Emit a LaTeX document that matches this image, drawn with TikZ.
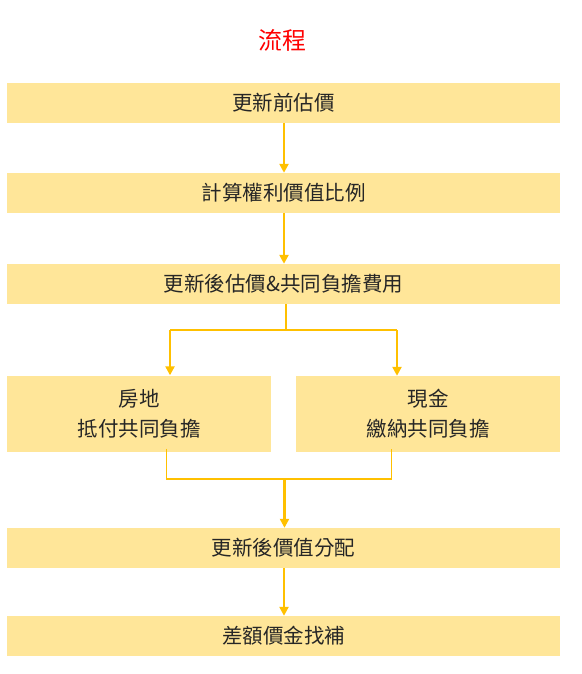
\documentclass[tikz,border=0pt]{standalone}
\usepackage{fontspec}
\setmainfont{Noto Sans CJK TC}
\usepackage{xcolor}
\usetikzlibrary{arrows.meta, positioning}
\definecolor{boxfill}{HTML}{FFE699}
\definecolor{arrowgold}{HTML}{FFC000}
\definecolor{titlered}{HTML}{FF0000}
\definecolor{textgray}{HTML}{262626}
\tikzset{
  % boxes of the flow
  step box/.style={rectangle, fill=boxfill, text=textgray, inner sep=0pt,
    font=\fontsize{20.5}{30}\selectfont, align=center},
  wide box/.style={step box, minimum width=553, minimum height=40},
  half box/.style={step box, minimum width=264, minimum height=76},
  % connectors
  connect/.style={arrowgold, line width=1.6},
  connect arrow/.style={arrowgold, line width=2.6, -{Triangle[length=9,width=9]}},
}

\begin{document}
\begin{tikzpicture}[x=1pt, y=-1pt]
    \useasboundingbox (0,0) rectangle (581,674);
    \node[text=titlered, font=\fontsize{24}{28}\selectfont] (Title) at (282,40) {流程};
    \node[wide box] (Before)  at (283.5,103) {更新前估價};
    \node[wide box] (Ratio)   at (283.5,193) {計算權利價值比例};
    \node[wide box] (After)   at (283.5,284) {更新後估價\&共同負擔費用};
    \node[half box] (Land)    at (139,413.5) {房地\\抵付共同負擔};
    \node[half box] (Cash)    at (428,414)   {現金\\繳納共同負擔};
    \node[wide box] (Alloc)   at (283.5,548) {更新後價值分配};
    \node[wide box] (Settle)  at (283.5,636) {差額價金找補};
    \coordinate (Mid)    at (284,0);
    \coordinate (SplitM) at (286,330);
    \coordinate (SplitL) at (170,330);
    \coordinate (SplitR) at (397,330);
    \coordinate (JoinL)  at (166.5,479);
    \coordinate (JoinR)  at (391.5,479);
    \coordinate (JoinM)  at (284.5,479);
    \draw[connect arrow] (Before.south -| Mid) -- (Ratio.north -| Mid);
    \draw[connect arrow] (Ratio.south -| Mid)  -- (After.north -| Mid);
    \draw[connect, line width=2.4] (After.south -| SplitM) -- (SplitM);
    \draw[connect] (SplitL) -- (SplitR);
    \draw[connect arrow] (SplitL) -- (Land.north -| SplitL);
    \draw[connect arrow] (SplitR) -- (Cash.north -| SplitR);
    \draw[connect] ([yshift=3]Land.south -| JoinL) -- (JoinL) -- (JoinR) -- ([yshift=3]Cash.south -| JoinR);
    \draw[connect arrow] (JoinM) -- (Alloc.north -| JoinM);
    \draw[connect arrow] (Alloc.south -| Mid) -- (Settle.north -| Mid);
\end{tikzpicture}
\end{document}
